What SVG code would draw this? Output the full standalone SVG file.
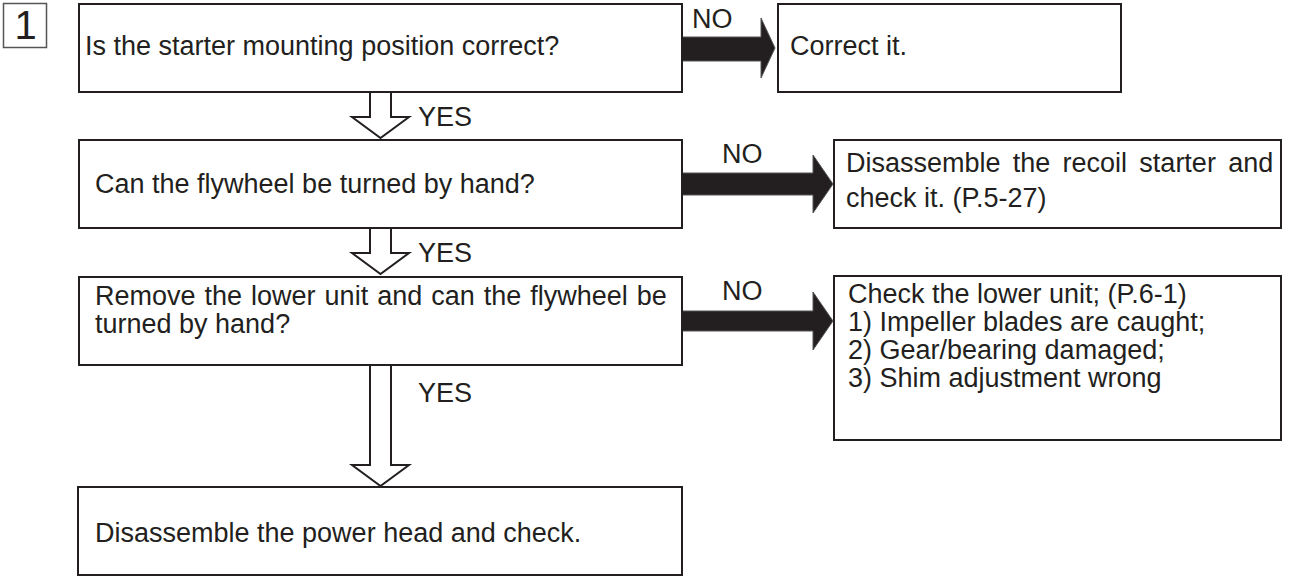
<svg xmlns="http://www.w3.org/2000/svg" width="1289" height="577" viewBox="0 0 1289 577">
  <style>
    .box { fill: #fff; stroke: #231f20; stroke-width: 2; }
    .t { font-family: "Liberation Sans", Arial, Helvetica, sans-serif; font-size: 27px; fill: #231f20; }
    .down { fill: #fff; stroke: #231f20; stroke-width: 2; stroke-linejoin: miter; }
    .right { fill: #231f20; stroke: #555; stroke-width: 1; }
  </style>
  <rect width="1289" height="577" fill="#fff"/>

  <!-- step number -->
  <g id="step-number">
    <rect x="3.5" y="3.5" width="43" height="44" fill="#fff" stroke="#555" stroke-width="1.5"/>
    <text x="25.5" y="39" text-anchor="middle" font-family="Liberation Sans, Arial, sans-serif" font-size="40" fill="#231f20">1</text>
  </g>

  <!-- connectors -->
  <g id="connectors">
    <!-- YES (hollow, downward) -->
    <polygon class="down" points="370,92 391,92 391,117 409,117 380.5,138 352,117 370,117"/>
    <polygon class="down" points="370,228 391,228 391,253 409,253 380.5,274 352,253 370,253"/>
    <polygon class="down" points="370,365 391,365 391,465 409,465 380.5,486 352,465 370,465"/>
    <text class="t" x="418" y="126">YES</text>
    <text class="t" x="418" y="262">YES</text>
    <text class="t" x="418" y="402">YES</text>
    <!-- NO (solid, rightward) -->
    <polygon class="right" points="682,37 761,37 761,18 775,48 761,78 761,61 682,61"/>
    <polygon class="right" points="682,173 813,173 813,155 833,184 813,213 813,195 682,195"/>
    <polygon class="right" points="682,311 813,311 813,292 833,321 813,350 813,331 682,331"/>
    <text class="t" x="692" y="28">NO</text>
    <text class="t" x="722" y="163">NO</text>
    <text class="t" x="722" y="300">NO</text>
  </g>

  <g id="q-mounting">
    <rect class="box" x="79" y="4" width="603" height="88"/>
    <text class="t" x="85" y="55">Is the starter mounting position correct?</text>
  </g>
  <g id="a-correct">
    <rect class="box" x="778" y="4" width="343" height="88"/>
    <text class="t" x="790" y="55">Correct it.</text>
  </g>

  <g id="q-flywheel">
    <rect class="box" x="79" y="140" width="603" height="88"/>
    <text class="t" x="95" y="193">Can the flywheel be turned by hand?</text>
  </g>
  <g id="a-recoil">
    <rect class="box" x="834" y="140" width="447" height="88"/>
    <text class="t" x="846" y="172" word-spacing="4.75">Disassemble the recoil starter and</text>
    <text class="t" x="846" y="207">check it. (P.5-27)</text>
  </g>

  <g id="q-lower-unit">
    <rect class="box" x="79" y="277" width="603" height="88"/>
    <text class="t" x="95" y="305" word-spacing="1.5">Remove the lower unit and can the flywheel be</text>
    <text class="t" x="95" y="333">turned by hand?</text>
  </g>
  <g id="a-lower-unit">
    <rect class="box" x="834" y="276" width="447" height="164"/>
    <text class="t" x="848" y="303">Check the lower unit; (P.6-1)</text>
    <text class="t" x="848" y="331">1) Impeller blades are caught;</text>
    <text class="t" x="848" y="359">2) Gear/bearing damaged;</text>
    <text class="t" x="848" y="387">3) Shim adjustment wrong</text>
  </g>

  <g id="r-power-head">
    <rect class="box" x="78" y="487" width="604" height="88"/>
    <text class="t" x="95" y="542">Disassemble the power head and check.</text>
  </g>
</svg>
